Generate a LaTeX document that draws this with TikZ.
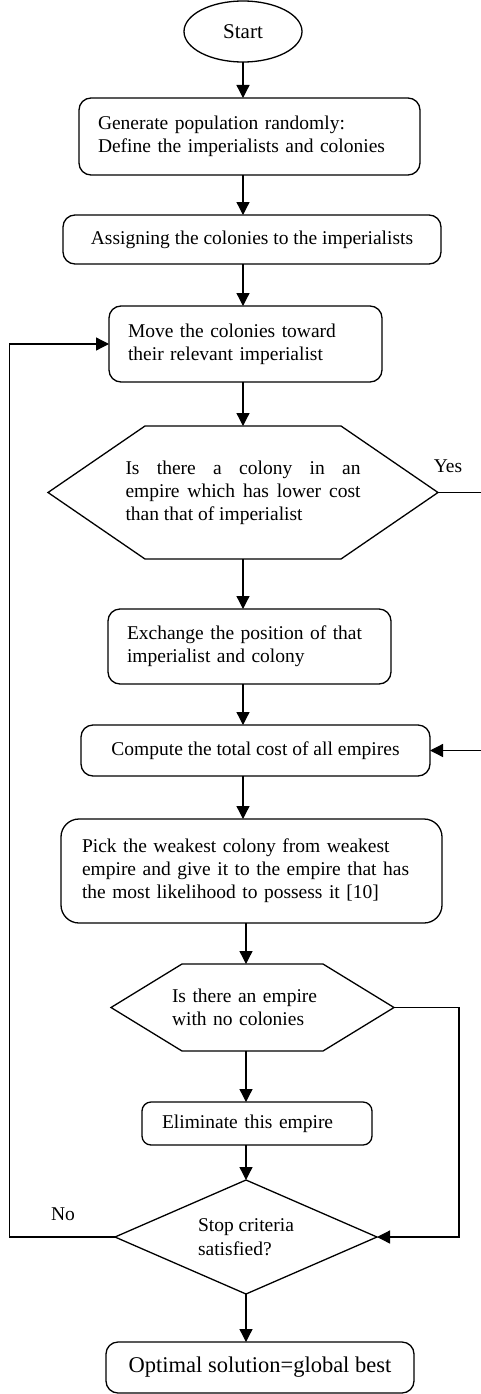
\documentclass[tikz,border=0pt]{standalone}
\usepackage{fontspec}
\setmainfont{Liberation Serif}
\usepackage{tikz}
\usetikzlibrary{shapes.geometric, arrows.meta, positioning}
\tikzset{
    procbox/.style={rectangle, rounded corners=12pt, draw=black, line width=1.3pt, outer sep=0pt, font=\fontsize{19.5}{23}\selectfont},
    leftbox/.style={procbox, align=left},
    midbox/.style={procbox, align=center},
    hexbox/.style={rectangle, outer sep=0pt, inner sep=0pt, font=\fontsize{19.5}{23}\selectfont},
    hexline/.style={line width=1.3pt, line join=miter},
    arrow/.style={-{Triangle[length=13pt, width=13pt]}, line width=1.3pt},
}

\begin{document}
\begin{tikzpicture}[
    startnode/.style={ellipse, draw=black, line width=1.3pt, outer sep=0pt, minimum width=118pt, minimum height=61pt, font=\fontsize{21}{24}\selectfont},
    stopnode/.style={diamond, aspect=2.3, draw=black, line width=1.3pt, outer sep=0pt, inner sep=2pt, minimum width=262pt, minimum height=114pt, align=left, font=\fontsize{19.5}{24}\selectfont},
    lbl/.style={font=\fontsize{19.5}{23}\selectfont}
]
\useasboundingbox (0,0) rectangle (481pt,-1394pt);

% Main column
\node[startnode] (start) at (243pt,-31.5pt) {Start};
\node[leftbox, below=36pt of start, xshift=6.5pt, text width=303pt, inner xsep=19pt, minimum height=77pt] (generate) {Generate population randomly:\\Define the imperialists and colonies};
\node[midbox, below=40pt of generate, xshift=2.5pt, minimum width=378pt, minimum height=49pt] (assign) {Assigning the colonies to the imperialists};
\node[leftbox, below=42pt of assign, xshift=-6.5pt, text width=235pt, inner xsep=19pt, minimum height=76pt] (move) {Move the colonies toward\\their relevant imperialist};

% First test (hexagon)
\node[hexbox, below=44pt of move, xshift=-2.5pt, minimum width=390pt, minimum height=133pt, text width=235pt, align=justify] (swapq) {Is there a colony in an\linebreak empire which has lower cost\linebreak than that of imperialist};
\draw[hexline] ([xshift=97pt]swapq.north west) -- ([xshift=-97pt]swapq.north east) -- (swapq.east) -- ([xshift=-97pt]swapq.south east) -- ([xshift=97pt]swapq.south west) -- (swapq.west) -- cycle;

\node[leftbox, below=50pt of swapq, xshift=6.5pt, text width=245pt, inner xsep=19pt, minimum height=75pt] (exchange) {Exchange the position of that\\imperialist and colony};
\node[midbox, below=41pt of exchange, xshift=6pt, minimum width=349pt, minimum height=51pt] (compute) {Compute the total cost of all empires};
\node[leftbox, below=43pt of compute, xshift=-4pt, text width=339pt, inner xsep=21pt, minimum height=104pt, rounded corners=18pt] (pick) {Pick the weakest colony from weakest\\empire and give it to the empire that has\\the most likelihood to possess it [10]};

% Second test (hexagon)
\node[hexbox, below=41pt of pick, xshift=1pt, minimum width=283pt, minimum height=87pt, text width=161pt, align=left] (nocol) {Is there an empire\\with no colonies};
\draw[hexline] ([xshift=71pt]nocol.north west) -- ([xshift=-71pt]nocol.north east) -- (nocol.east) -- ([xshift=-71pt]nocol.south east) -- ([xshift=71pt]nocol.south west) -- (nocol.west) -- cycle;

\node[leftbox, below=51pt of nocol, xshift=4.5pt, text width=190pt, inner xsep=20pt, minimum height=43pt, rounded corners=9pt] (eliminate) {Eliminate this empire};
\node[stopnode, below=35pt of eliminate, xshift=-11pt] (stop) {Stop criteria\\satisfied?};
\node[midbox, below=48pt of stop, xshift=14pt, minimum width=308pt, minimum height=51pt, font=\fontsize{22.5}{26}\selectfont] (optimal) {Optimal solution=global best};

% Labels
\node[lbl] (yes) at ([xshift=10pt, yshift=26.5pt]swapq.east) {Yes};
\node[lbl] (no) at ([xshift=-52pt, yshift=23pt]stop.west) {No};

% Arrows
\draw[arrow] (start.south) -- (generate.north -| start);
\draw[arrow] (generate.south -| start) -- (assign.north -| start);
\draw[arrow] (assign.south -| start) -- (move.north -| start);
\draw[arrow] (move.south -| start) -- (swapq.north);
\draw[arrow] (swapq.south) -- (exchange.north -| swapq);
\draw[arrow] (exchange.south -| swapq) -- (compute.north -| swapq);
\draw[arrow] (compute.south -| swapq) -- (pick.north -| swapq);
\draw[arrow] (pick.south -| stop) -- (nocol.north -| stop);
\draw[arrow] (nocol.south -| stop) -- (eliminate.north -| stop);
\draw[arrow] (eliminate.south -| stop) -- (stop.north);
\draw[arrow] (stop.south) -- (optimal.north -| stop);

% Feedback lines
\draw[arrow] (swapq.east) -- ++(45pt,0) |- (compute.east);
\draw[arrow] (nocol.east) -- ++(65pt,0) |- (stop.east);
\draw[arrow] (stop.west) -- ++(-105.5pt,0) |- (move.west);

\end{tikzpicture}
\end{document}
